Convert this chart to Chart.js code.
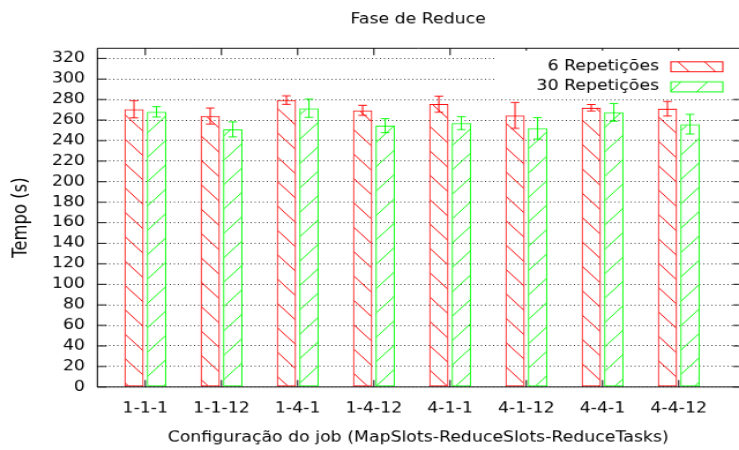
<!DOCTYPE html>
<html>
<head>
<meta charset="utf-8">
<script src="https://cdn.jsdelivr.net/npm/chart.js@4"></script>
<style>
  html, body { margin: 0; padding: 0; background: #fff; overflow: hidden; }
  /* the reference is a 640x480 plot stretched to 739x450 */
  #wrap { width: 640px; height: 480px; transform: scale(1.15469, 0.9375); transform-origin: 0 0; }
</style>
</head>
<body>
<div id="wrap"><canvas id="chrReduce" width="640" height="480"></canvas></div>
<script>
// data
const categories = ['1-1-1', '1-1-12', '1-4-1', '1-4-12', '4-1-1', '4-1-12', '4-4-1', '4-4-12'];
const rep6 = [270.5, 264, 279.5, 269.5, 275.5, 264.5, 272, 271];
const rep6Err = [8.4, 7.8, 4.2, 4.9, 7.8, 12.6, 3.1, 7.1];
const rep30 = [268, 251, 271.5, 254.5, 257, 252, 267.5, 256];
const rep30Err = [5.1, 7.3, 8.9, 6.8, 6.3, 10.4, 8.6, 9.6];
const yMin = 0, yMax = 330, yStep = 20;

const FONT = 'DejaVu Sans';
Chart.defaults.font.family = FONT;
Chart.defaults.font.size = 15;
Chart.defaults.color = '#000';

// hatch fill, like gnuplot fill patterns
makeHatch = (color, dir) => {
  const w = 23, h = 26;
  const c = document.createElement('canvas');
  c.width = w; c.height = h;
  const g = c.getContext('2d');
  g.strokeStyle = color;
  g.lineWidth = 1;
  g.beginPath();
  for (let k = -1; k <= 1; k++) {
    if (dir === '\\') { g.moveTo(k * w, 0); g.lineTo(k * w + w, h); }
    else { g.moveTo(k * w, h); g.lineTo(k * w + w, 0); }
  }
  g.stroke();
  return g.createPattern(c, 'repeat');
};

const frame = {
  id: 'frame',
  afterDatasetsDraw(chart) {
    const {ctx, chartArea: a, scales: {x, y}} = chart;
    ctx.save();
    ctx.lineWidth = 1;
    // error bars
    chart.data.datasets.forEach((ds, i) => {
      const meta = chart.getDatasetMeta(i);
      ctx.strokeStyle = ds.borderColor;
      ctx.beginPath();
      meta.data.forEach((bar, j) => {
        const v = ds.data[j].y, e = ds.errors[j];
        const top = y.getPixelForValue(v + e), bot = y.getPixelForValue(v - e);
        ctx.moveTo(bar.x, top); ctx.lineTo(bar.x, bot);
        ctx.moveTo(bar.x - 3.75, top); ctx.lineTo(bar.x + 3.75, top);
        ctx.moveTo(bar.x - 3.75, bot); ctx.lineTo(bar.x + 3.75, bot);
      });
      ctx.stroke();
    });
    // border (right side falls off the picture)
    ctx.strokeStyle = '#000';
    ctx.beginPath();
    ctx.moveTo(a.right + 3, a.top); ctx.lineTo(a.left, a.top);
    ctx.lineTo(a.left, a.bottom); ctx.lineTo(a.right + 3, a.bottom);
    // tics, pointing inward
    y.ticks.forEach(t => {
      const py = y.getPixelForValue(t.value);
      ctx.moveTo(a.left, py); ctx.lineTo(a.left + 8, py);
      ctx.moveTo(a.right - 5.3, py); ctx.lineTo(a.right, py);
    });
    x.ticks.forEach(t => {
      const px = x.getPixelForValue(t.value);
      ctx.moveTo(px, a.top); ctx.lineTo(px, a.top + 7.5);
      ctx.moveTo(px, a.bottom); ctx.lineTo(px, a.bottom - 7.5);
    });
    ctx.stroke();
    ctx.restore();
  },
  afterDraw(chart) {
    const {ctx} = chart;
    ctx.save();
    ctx.fillStyle = '#fff';
    ctx.fillRect(428, 54, 212, 46);
    ctx.font = '15px ' + FONT;
    ctx.textAlign = 'right';
    ctx.textBaseline = 'middle';
    chart.data.datasets.forEach((ds, i) => {
      const cy = 71.2 + i * 21.4;
      ctx.fillStyle = '#000';
      ctx.fillText(ds.label, 570.7, cy);
      ctx.fillStyle = ds.backgroundColor;
      ctx.fillRect(581, cy - 5.35, 45, 10.7);
      ctx.strokeStyle = ds.borderColor;
      ctx.lineWidth = 1;
      ctx.strokeRect(581, cy - 5.35, 45, 10.7);
    });
    ctx.restore();
  }
};

ChartReduce = () => {
  const ctx = document.getElementById('chrReduce').getContext('2d');
  new Chart(ctx, {
    type: 'bar',
    data: {
      datasets: [{
        label: '6 Repetições',
        data: categories.map((c, i) => ({x: i, y: rep6[i]})),
        errors: rep6Err,
        backgroundColor: makeHatch('#ff0000', '\\'),
        borderColor: '#ff0000',
        borderWidth: 1,
        borderSkipped: false
      }, {
        label: '30 Repetições',
        data: categories.map((c, i) => ({x: i, y: rep30[i]})),
        errors: rep30Err,
        backgroundColor: makeHatch('#00ff00', '/'),
        borderColor: '#00ff00',
        borderWidth: 1,
        borderSkipped: false
      }]
    },
    options: {
      responsive: false,
      animation: false,
      categoryPercentage: 0.592,
      barPercentage: 0.857,
      layout: { padding: 0, autoPadding: false },
      plugins: {
        legend: { display: false },
        tooltip: { enabled: false },
        title: {
          display: true,
          text: 'Fase de Reduce',
          fullSize: false,
          font: { size: 15, weight: 'normal' },
          color: '#000',
          padding: { top: 12, bottom: 21.4 }
        }
      },
      scales: {
        x: {
          type: 'linear',
          offset: false,
          min: -0.629,
          max: 7.791,
          afterFit: s => { s.height = 67.2; },
          ticks: {
            stepSize: 1,
            includeBounds: false,
            autoSkip: false,
            maxRotation: 0,
            padding: 13.9,
            callback: v => categories[v] ?? ''
          },
          grid: { display: false, offset: false, drawTicks: false, tickLength: 0 },
          border: { display: false },
          title: {
            display: true,
            text: 'Configuração do job (MapSlots-ReduceSlots-ReduceTasks)',
            padding: { top: 0, bottom: 3.5 }
          }
        },
        y: {
          min: yMin,
          max: yMax,
          afterFit: s => { s.width = 84.3; },
          ticks: { stepSize: yStep, includeBounds: false, padding: 10.7 },
          grid: {
            color: 'rgba(0,0,0,0.8)',
            lineWidth: 1,
            drawTicks: false,
            tickLength: 0
          },
          // in v4 the dash of the grid lines lives under border
          border: { display: false, dash: [1, 2.5] },
          title: {
            display: true,
            text: 'Tempo (s)',
            font: { size: 17.5 },
            padding: { top: 8.3, bottom: 0 }
          }
        }
      }
    },
    plugins: [frame]
  });
};

ChartReduce();
</script>
</body>
</html>
